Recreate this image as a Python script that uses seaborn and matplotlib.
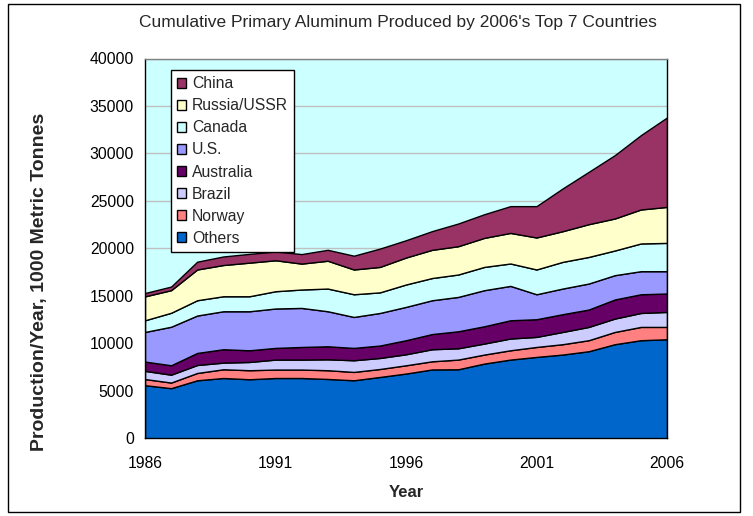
import matplotlib
matplotlib.use("Agg")
import matplotlib.pyplot as plt
from matplotlib.patches import Patch, Rectangle
import seaborn as sns
import numpy as np

years = list(range(1986, 2007))

others = [5590, 5280, 6110, 6350, 6220, 6350, 6350, 6250, 6110, 6460, 6820,
          7250, 7270, 7870, 8290, 8570, 8820, 9170, 9910, 10330, 10430]
norway = [650, 590, 770, 920, 950, 890, 890, 920, 880, 840, 870,
          860, 1020, 950, 980, 1050, 1090, 1160, 1290, 1400, 1300]
brazil = [860, 830, 840, 700, 870, 1050, 1050, 1150, 1230, 1160, 1160,
          1270, 1190, 1160, 1240, 1060, 1290, 1400, 1410, 1470, 1580]
australia = [980, 990, 1270, 1410, 1230, 1230, 1330, 1370, 1300, 1310, 1480,
             1600, 1790, 1820, 1920, 1860, 1870, 1830, 2010, 1970, 1940]
us = [3120, 4060, 3940, 4000, 4110, 4150, 4110, 3690, 3260, 3430, 3510,
      3560, 3620, 3800, 3620, 2630, 2700, 2740, 2560, 2430, 2350]
canada = [1230, 1470, 1610, 1580, 1580, 1820, 1940, 2390, 2390, 2170, 2360,
          2340, 2360, 2450, 2360, 2610, 2810, 2800, 2600, 2920, 2980]
russia = [2520, 2380, 3240, 3290, 3540, 3260, 2730, 2930, 2610, 2680, 2840,
          2970, 2980, 3060, 3220, 3370, 3230, 3450, 3370, 3580, 3790]
china = [350, 380, 820, 900, 920, 920, 1000, 1150, 1450, 1930, 1820,
         1970, 2390, 2490, 2820, 3300, 4500, 5510, 6670, 7830, 9420]

series_names = ["Others", "Norway", "Brazil", "Australia", "U.S.",
                "Canada", "Russia/USSR", "China"]
series_values = [others, norway, brazil, australia, us, canada, russia, china]
series_colors = ["#0066CC", "#FF8080", "#CCCCFF", "#660066", "#9999FF",
                 "#CCFFFF", "#FFFFCC", "#993366"]

y_ticks = [0, 5000, 10000, 15000, 20000, 25000, 30000, 35000, 40000]
x_label_years = [1986, 1991, 1996, 2001, 2006]

title = "Cumulative Primary Aluminum Produced by 2006's Top 7 Countries"
xlabel = "Year"
ylabel = "Production/Year, 1000 Metric Tonnes"

sns.set_theme(style="white")
plt.rcParams["font.family"] = ["Liberation Sans", "DejaVu Sans"]

palette = sns.color_palette(series_colors)

fig = plt.figure(figsize=(7.53, 5.16), dpi=100)
fig.patch.set_facecolor("white")
ax = fig.add_axes([145 / 753, 1 - 438.3 / 516, 522 / 753, (438.3 - 58.5) / 516])
ax.set_facecolor("#CCFFFF")

ax.stackplot(years, *series_values, colors=palette, edgecolor="black",
             linewidth=1.0, labels=series_names)

ax.set_xlim(1986, 2006)
ax.set_ylim(0, 40000)
ax.set_yticks(y_ticks)
ax.set_yticklabels([str(v) for v in y_ticks], fontsize=11.3)
ax.set_xticks(years)
ax.set_xticklabels([str(y) if y in x_label_years else "" for y in years], fontsize=11.3)
ax.tick_params(axis="both", direction="out", length=5, width=1, color="black",
               labelcolor="black", pad=3)
ax.tick_params(axis="x", pad=8)
ax.yaxis.grid(True, color="#C0C0C0", linewidth=1)
ax.xaxis.grid(False)
ax.set_axisbelow(True)
for s in ax.spines.values():
    s.set_visible(True)
    s.set_color("black")
    s.set_linewidth(1)
ax.spines["top"].set_color("#808080")

ax.set_xlabel(xlabel, fontsize=12, fontweight="bold", labelpad=10)
fig.text(40 / 753, 1 - 281.5 / 516, ylabel, rotation=90, fontsize=14,
         fontweight="bold", ha="center", va="center")
fig.text(398 / 753, 1 - 22 / 516, title, fontsize=12.5, ha="center", va="center")

handles = [Patch(facecolor=c, edgecolor="black", linewidth=1) for c in series_colors]
leg = ax.legend(handles[::-1], series_names[::-1], loc="upper left",
                bbox_to_anchor=((170.7 - 145) / 522, (438.3 - 70) / 379.8),
                fontsize=11.3, frameon=True, fancybox=False, framealpha=1,
                edgecolor="black", handlelength=0.6, handleheight=0.6,
                handletextpad=0.35, labelspacing=0.45, borderpad=0.4,
                borderaxespad=0)
leg.get_frame().set_linewidth(1)

fig.patches.append(Rectangle((8 / 753, 4 / 516), (740 - 8) / 753, (512 - 4) / 516,
                             transform=fig.transFigure, fill=False,
                             edgecolor="black", linewidth=1))

fig.savefig("out.png", dpi=100)
